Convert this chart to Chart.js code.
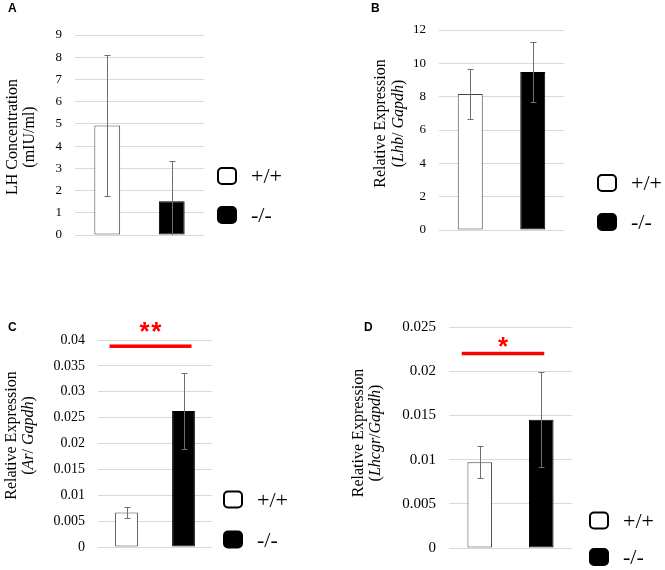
<!DOCTYPE html>
<html>
<head>
<meta charset="utf-8">
<script src="https://cdn.jsdelivr.net/npm/chart.js@4.4.1/dist/chart.umd.min.js"></script>
<style>
  html, body { margin: 0; padding: 0; background: #fff; }
  #figure { position: relative; width: 665px; height: 570px; }
  #figure canvas { position: absolute; }
</style>
</head>
<body>
<div id="figure">
  <canvas id="panel-a" width="332" height="285" style="left:0;top:0"></canvas>
  <canvas id="panel-b" width="333" height="285" style="left:332px;top:0"></canvas>
  <canvas id="panel-c" width="332" height="285" style="left:0;top:285px"></canvas>
  <canvas id="panel-d" width="333" height="285" style="left:332px;top:285px"></canvas>
</div>
<script>
"use strict";

// genotypes, one bar each
const genotypes = ['+/+', '-/-'];

// A: serum LH
const lhMeans = [4.93, 1.52];
const lhErrors = [3.17, 1.81];
const lhTicks = [0, 1, 2, 3, 4, 5, 6, 7, 8, 9];
const lhTitle = [[{ text: 'LH Concentration' }], [{ text: '(mIU/ml)' }]];

// B: Lhb / Gapdh
const lhbMeans = [8.16, 9.48];
const lhbErrors = [1.47, 1.79];
const lhbTicks = [0, 2, 4, 6, 8, 10, 12];
const lhbTitle = [[{ text: 'Relative Expression' }],
    [{ text: '(' }, { text: 'Lhb', italic: true }, { text: '/ ' }, { text: 'Gapdh', italic: true }, { text: ')' }]];

// C: Ar / Gapdh
const arMeans = [0.00666, 0.0263];
const arErrors = [0.00103, 0.0074];
const arTicks = [0, 0.005, 0.01, 0.015, 0.02, 0.025, 0.03, 0.035, 0.04];
const arTitle = [[{ text: 'Relative Expression' }],
    [{ text: '(' }, { text: 'Ar', italic: true }, { text: '/ ' }, { text: 'Gapdh', italic: true }, { text: ')' }]];
const arSignificance = { value: 0.0388, label: '**' };

// D: Lhcgr / Gapdh
const lhcgrMeans = [0.00971, 0.0145];
const lhcgrErrors = [0.00183, 0.00536];
const lhcgrTicks = [0, 0.005, 0.01, 0.015, 0.02, 0.025];
const lhcgrTitle = [[{ text: 'Relative Expression' }],
    [{ text: '(' }, { text: 'Lhcgr', italic: true }, { text: '/' }, { text: 'Gapdh', italic: true }, { text: ')' }]];
const lhcgrSignificance = { value: 0.022, label: '*' };

const SERIF = '"Liberation Serif", "Times New Roman", serif';
const SANS = '"Liberation Sans", Arial, sans-serif';
const barFills = ['#ffffff', '#000000'];
const barBorders = ['#444444', '#000000'];

/**
 * Draws error bars, panel letter, rotated axis title, legend and significance bar
 */
const panelDecor = {
    id: 'panelDecor',

    afterDatasetsDraw(chart, args, opts) {
        const ctx = chart.ctx;
        const area = chart.chartArea;
        const yScale = chart.scales.y;

        ctx.save();
        ctx.beginPath();
        ctx.rect(area.left, area.top, area.right - area.left, area.bottom - area.top);
        ctx.clip();
        ctx.strokeStyle = '#6f6f6f';
        ctx.lineWidth = 1;
        chart.data.datasets.forEach((ds, i) => {
            const bar = chart.getDatasetMeta(i).data[0];
            const v = ds.data[0];
            const e = opts.errors[i];
            const x = Math.round(bar.x) + 0.5;
            const top = Math.round(yScale.getPixelForValue(v + e)) + 0.5;
            const bottom = Math.round(yScale.getPixelForValue(v - e)) + 0.5;
            ctx.beginPath();
            ctx.moveTo(x, top);
            ctx.lineTo(x, bottom);
            ctx.moveTo(x - 3, top);
            ctx.lineTo(x + 3, top);
            ctx.moveTo(x - 3, bottom);
            ctx.lineTo(x + 3, bottom);
            ctx.stroke();
        });
        ctx.restore();
    },

    afterDraw(chart, args, opts) {
        const ctx = chart.ctx;
        ctx.save();
        ctx.fillStyle = '#000';

        // panel letter
        ctx.font = 'bold 12px ' + SANS;
        ctx.textAlign = 'left';
        ctx.textBaseline = 'alphabetic';
        ctx.fillText(opts.letter.text, opts.letter.x, opts.letter.y);

        // y axis title, one rotated line per entry
        const t = opts.title;
        t.lines.forEach((segs, li) => {
            ctx.save();
            ctx.translate(t.x + li * t.gap, t.y);
            ctx.rotate(-Math.PI / 2);
            ctx.textBaseline = 'middle';
            ctx.textAlign = 'left';
            const fonts = segs.map(s => (s.italic ? 'italic ' : '') + '16px ' + SERIF);
            const widths = segs.map((s, k) => {
                ctx.font = fonts[k];
                return ctx.measureText(s.text).width;
            });
            let x = -widths.reduce((a, b) => a + b, 0) / 2;
            segs.forEach((s, k) => {
                ctx.font = fonts[k];
                ctx.fillText(s.text, x, 0);
                x += widths[k];
            });
            ctx.restore();
        });

        // legend
        const lg = opts.legend;
        chart.data.datasets.forEach((ds, i) => {
            const bx = lg.x;
            const by = lg.y + i * lg.step;
            ctx.beginPath();
            ctx.roundRect(bx + 1, by + 1, 18, 16, 4);
            ctx.fillStyle = ds.backgroundColor;
            ctx.fill();
            ctx.lineWidth = 2;
            ctx.strokeStyle = '#000';
            ctx.stroke();

            ctx.fillStyle = '#000';
            ctx.font = '22px ' + SERIF;
            ctx.textBaseline = 'alphabetic';
            const m = ctx.measureText(ds.label);
            ctx.fillText(ds.label, bx + 34, by + 9 + (m.actualBoundingBoxAscent - m.actualBoundingBoxDescent) / 2);
        });

        // significance bar
        if (opts.sig) {
            const b0 = chart.getDatasetMeta(0).data[0];
            const b1 = chart.getDatasetMeta(1).data[0];
            const ly = chart.scales.y.getPixelForValue(opts.sig.value);
            const x1 = b0.x + opts.sig.from;
            const x2 = b1.x + opts.sig.to;
            ctx.fillStyle = '#ff0000';
            ctx.fillRect(x1, ly - 1.75, x2 - x1, 3.5);

            ctx.font = 'bold 26px ' + SANS;
            ctx.textAlign = 'center';
            ctx.textBaseline = 'alphabetic';
            const stars = opts.sig.label.split('');
            const cx = (x1 + x2) / 2;
            const cy = ly - opts.sig.lift;
            stars.forEach((s, k) => {
                const m = ctx.measureText(s);
                const sx = cx + (k - (stars.length - 1) / 2) * 11.7;
                ctx.fillText(s, sx, cy + (m.actualBoundingBoxAscent - m.actualBoundingBoxDescent) / 2);
            });
        }
        ctx.restore();
    }
};

/**
 * Build one bar panel
 */
function makePanel(canvasId, means, ticks, tickSize, axisWidth, padding, decor) {
    return new Chart(document.getElementById(canvasId), {
        type: 'bar',
        data: {
            labels: [''],
            datasets: genotypes.map((g, i) => ({
                label: g,
                data: [means[i]],
                backgroundColor: barFills[i],
                borderColor: barBorders[i],
                borderWidth: 1,
                borderSkipped: false,
                barPercentage: 0.4,
                categoryPercentage: 1
            }))
        },
        options: {
            responsive: false,
            animation: false,
            devicePixelRatio: 1,
            layout: { padding: padding },
            scales: {
                x: { display: false },
                y: {
                    min: 0,
                    max: ticks[ticks.length - 1],
                    afterFit: (scale) => { scale.width = axisWidth; },
                    afterBuildTicks: (scale) => { scale.ticks = ticks.map(v => ({ value: v })); },
                    ticks: {
                        padding: 13,
                        color: '#000',
                        font: { family: SERIF, size: tickSize },
                        callback: (v) => String(v)
                    },
                    grid: { color: '#d9d9d9', drawTicks: false },
                    border: { display: false }
                }
            },
            plugins: {
                legend: { display: false },
                tooltip: { enabled: false },
                panelDecor: decor
            }
        },
        plugins: [panelDecor]
    });
}

makePanel('panel-a', lhMeans, lhTicks, 13, 75, { left: 0, top: 35, right: 128, bottom: 50 }, {
    errors: lhErrors,
    letter: { text: 'A', x: 8, y: 12 },
    title: { lines: lhTitle, x: 13, y: 137, gap: 17 },
    legend: { x: 217, y: 167, step: 39 },
    sig: null
});

makePanel('panel-b', lhbMeans, lhbTicks, 13, 107, { left: 0, top: 30, right: 101, bottom: 55 }, {
    errors: lhbErrors,
    letter: { text: 'B', x: 39, y: 12 },
    title: { lines: lhbTitle, x: 49, y: 123.5, gap: 18 },
    legend: { x: 265, y: 174, step: 39 },
    sig: null
});

makePanel('panel-c', arMeans, arTicks, 14, 98, { left: 0, top: 55, right: 120, bottom: 23 }, {
    errors: arErrors,
    letter: { text: 'C', x: 8, y: 46 },
    title: { lines: arTitle, x: 12, y: 150.5, gap: 16.5 },
    legend: { x: 223, y: 205.5, step: 40 },
    sig: { value: arSignificance.value, label: arSignificance.label, from: -17, to: 8, lift: 19.5 }
});

makePanel('panel-d', lhcgrMeans, lhcgrTicks, 15, 117, { left: 0, top: 42, right: 93, bottom: 12 }, {
    errors: lhcgrErrors,
    letter: { text: 'D', x: 32, y: 46 },
    title: { lines: lhcgrTitle, x: 27, y: 148, gap: 16.5 },
    legend: { x: 257, y: 226.5, step: 36.5 },
    sig: { value: lhcgrSignificance.value, label: lhcgrSignificance.label, from: -18, to: 3, lift: 12 }
});
</script>
</body>
</html>
